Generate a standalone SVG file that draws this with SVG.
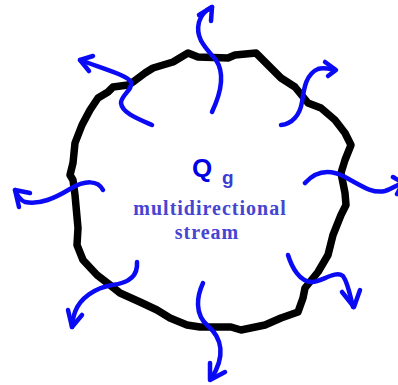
<svg xmlns="http://www.w3.org/2000/svg" width="398" height="385" viewBox="0 0 398 385">
<style>
.outline{fill:none;stroke:#000;stroke-width:7.5;stroke-linejoin:round;stroke-linecap:round}
.flow{fill:none;stroke:#0a0af5;stroke-width:4.5;stroke-linecap:round;stroke-linejoin:round}
.q{font-family:"Liberation Sans",Arial,sans-serif;font-weight:bold;fill:#0000e6}
.lbl{font-family:"Liberation Serif","Times New Roman",serif;font-weight:bold;fill:#4545d2;font-size:20px;letter-spacing:1px;text-anchor:middle}
</style>
<rect width="398" height="385" fill="#fff"/>
<g id="boundary">
<path class="outline" d="M188,53 L198,57 L228,58 L235,55 L256,53 L265,62 L281,78 L295,87 L308,103 L321,108 L335,120 L345,133 L351,145 L345,160 L341,173 L345,193 L346,205 L341,215 L333,235 L328,255 L318,272 L305,288 L303,298 L298,312 L281,318 L265,325 L241,330 L231,327 L200,327 L187,325 L170,318 L157,310 L140,302 L120,293 L110,285 L97,275 L83,260 L77,245 L78,228 L75,195 L73,180 L70,175 L73,163 L75,143 L82,125 L90,110 L98,98 L108,92 L113,87 L128,85 L133,82 L145,73 L153,68 L173,62 Z"/>
</g>
<g id="streams">
<g id="s-top"><path class="flow" d="M212,112 C220,95 226,75 216,60 C205,47 195,38 199,22 C201,15 206,10 212,7"/><path class="flow" d="M199,15 L212,7 L211,21"/></g>
<g id="s-upleft"><path class="flow" d="M152,125 C138,119 122,113 121,103 C121,95 133,90 131,82 C128,76 110,71 80,60"/><path class="flow" d="M93,56 L80,60 L89,71"/></g>
<g id="s-upright"><path class="flow" d="M281,125 C292,124 300,115 302,102 C304,88 306,74 318,69 C324,67 330,69 335,70"/><path class="flow" d="M325,62 L336,70 L328,76"/></g>
<g id="s-right"><path class="flow" d="M305,183 C315,172 328,168 345,177 C360,185 372,194 385,191 C392,189 396,185 403,183"/><path class="flow" d="M393,177 L403,183 L397,194"/></g>
<g id="s-left"><path class="flow" d="M103,190 C98,180 85,180 70,189 C55,198 40,205 25,202 C20,200 17,195 15,190"/><path class="flow" d="M30,193 L15,190 L19,207"/></g>
<g id="s-lowleft"><path class="flow" d="M137,262 C138,275 130,283 112,285 C95,288 80,298 75,312 C73,318 72,323 72,327"/><path class="flow" d="M68,310 L72,327 L82,315"/></g>
<g id="s-bottom"><path class="flow" d="M203,283 C197,296 194,314 208,326 C222,338 226,356 211,379"/><path class="flow" d="M210,363 L210,380 L225,372"/></g>
<g id="s-lowright"><path class="flow" d="M288,255 C292,268 300,282 312,282 C322,282 335,270 343,276 C348,283 350,295 353,307"/><path class="flow" d="M342,292 L354,307 L360,290"/></g>
</g>
<g id="label">
<text class="q" x="192" y="177" font-size="26">Q</text>
<text class="q" x="222" y="184" font-size="19" style="fill:#3c3cd4">g</text>
<text class="lbl" x="210" y="215">multidirectional</text>
<text class="lbl" x="207" y="239">stream</text>
</g>
</svg>
